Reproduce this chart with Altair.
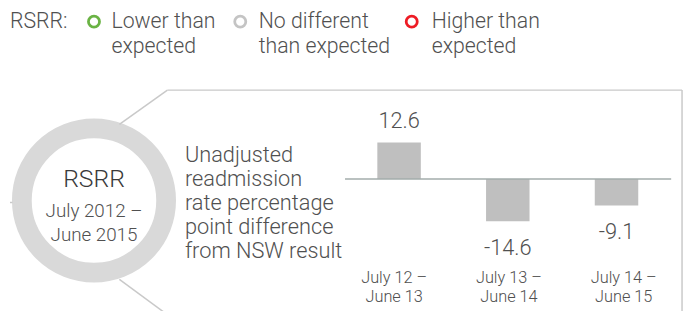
import altair as alt
import pandas as pd

# ---- data ----
periods = ["July 12 – June 13", "July 13 – June 14", "July 14 – June 15"]
values = [12.6, -14.6, -9.1]
value_labels = ["12.6", "-14.6", "-9.1"]
label_line1 = ["July 12 –", "July 13 –", "July 14 –"]
label_line2 = ["June 13", "June 14", "June 15"]

legend_title = "RSRR:"
legend_names = [["Lower than", "expected"], ["No different", "than expected"], ["Higher than", "expected"]]
legend_colors = ["#6ab344", "#c4c4c4", "#ee1c25"]

circle_title = "RSRR"
circle_sub = ["July 2012 –", "June 2015"]
desc_lines = ["Unadjusted", "readmission", "rate percentage", "point difference", "from NSW result"]

FONT = "Roboto"
FW = 300
TXT = "#505050"

df = pd.DataFrame({"period": periods, "value": values, "label": value_labels,
                   "l1": label_line1, "l2": label_line2})
one = pd.DataFrame({"a": [0]})

x_bar = alt.X("period:N", axis=None,
              scale=alt.Scale(type="band", domain=periods, range=[373.7, 637.7],
                              paddingInner=0.6, paddingOuter=0))
y_val = alt.Y("value:Q", axis=None,
              scale=alt.Scale(domain=[-20, 20], range=[229.9, 112.7], nice=False, zero=False))
x_lab = alt.X("l1:N", axis=None,
              scale=alt.Scale(type="point", domain=label_line1, range=[390.7, 623], padding=0))

layers = []

# decorative ring
layers.append(alt.Chart(one).mark_point(shape="circle", size=21316, filled=False,
                                         stroke="#d9d9d9", strokeWidth=20, opacity=1)
              .encode(x=alt.value(87), y=alt.value(193)))

# connector / box lines
segs = [(112.7, 116, 161.3, 81.3), (161.3, 81.3, 682, 81.3), (682, 81.3, 682, 310),
        (112.7, 272.7, 163.2, 310), (2, 195, 4.5, 195)]
for (a, b, c, d) in segs:
    layers.append(alt.Chart(one).mark_rule(color="#c9c9c9", strokeWidth=1.5)
                  .encode(x=alt.value(a), y=alt.value(b), x2=alt.value(c), y2=alt.value(d)))

# bars
bars = alt.Chart(df).mark_bar(color="#bfbfbf").encode(x=x_bar, y=y_val)

# zero line
zero = alt.Chart(df).transform_filter("datum.value == 12.6").transform_calculate(z="0").mark_rule(
    color="#a3adab", strokeWidth=1.5
).encode(y=alt.Y("z:Q", axis=None), x=alt.value(341), x2=alt.value(671))

# value labels
pos = alt.Chart(df).transform_filter("datum.value >= 0").mark_text(
    dy=-21.6, fontSize=22, font=FONT, fontWeight=FW, color=TXT, baseline="middle", align="center"
).encode(x=x_bar, y=y_val, text="label:N")
neg = alt.Chart(df).transform_filter("datum.value < 0").mark_text(
    dy=27, fontSize=22, font=FONT, fontWeight=FW, color=TXT, baseline="middle", align="center"
).encode(x=x_bar, y=y_val, text="label:N")

bar_group = alt.layer(bars, zero, pos, neg)

# category labels
lab_layers = []
for field, yy in [("l1", 271), ("l2", 290.5)]:
    lab_layers.append(alt.Chart(df).mark_text(fontSize=16.5, font=FONT, fontWeight=FW, color=TXT,
                                              baseline="middle", align="center")
                      .encode(x=x_lab, y=alt.value(yy), text=f"{field}:N"))
lab_group = alt.layer(*lab_layers)

data_group = alt.layer(bar_group, lab_group).resolve_scale(x="independent")
layers.append(data_group)

# circle text
layers.append(alt.Chart(one).mark_text(text=circle_title, fontSize=25, font=FONT, fontWeight=FW,
                                       color="#3a3a3a", baseline="middle", align="center")
              .encode(x=alt.value(87), y=alt.value(171)))
for i, t in enumerate(circle_sub):
    layers.append(alt.Chart(one).mark_text(text=t, fontSize=19, font=FONT, fontWeight=FW, color=TXT,
                                           baseline="middle", align="center")
                  .encode(x=alt.value(87), y=alt.value(203.5 + i * 24)))

# description text
for i, t in enumerate(desc_lines):
    layers.append(alt.Chart(one).mark_text(text=t, fontSize=22, font=FONT, fontWeight=FW, color=TXT,
                                           baseline="middle", align="left")
                  .encode(x=alt.value(179), y=alt.value(147.5 + i * 24.2)))

# legend
layers.append(alt.Chart(one).mark_text(text=legend_title, fontSize=21.5, font=FONT, fontWeight=FW,
                                       color=TXT, baseline="middle", align="left")
              .encode(x=alt.value(2), y=alt.value(12)))
legend_x = [(87, 104.7), (235, 253.7), (408.5, 428.7)]
for (cx, tx), names, col in zip(legend_x, legend_names, legend_colors):
    layers.append(alt.Chart(one).mark_point(shape="circle", size=125, filled=False,
                                             stroke=col, strokeWidth=2.8, opacity=1)
                  .encode(x=alt.value(cx), y=alt.value(12)))
    for j, t in enumerate(names):
        layers.append(alt.Chart(one).mark_text(text=t, fontSize=21.5, font=FONT, fontWeight=FW,
                                               color=TXT, baseline="middle", align="left")
                      .encode(x=alt.value(tx), y=alt.value(12 + j * 26)))

chart = alt.layer(*layers).properties(
    width=685, height=303, padding=0, autosize=alt.AutoSizeParams(type="none"),
    background="white"
).configure_view(stroke=None)

chart.save("out.html", embed_options={"renderer": "svg", "actions": False})
